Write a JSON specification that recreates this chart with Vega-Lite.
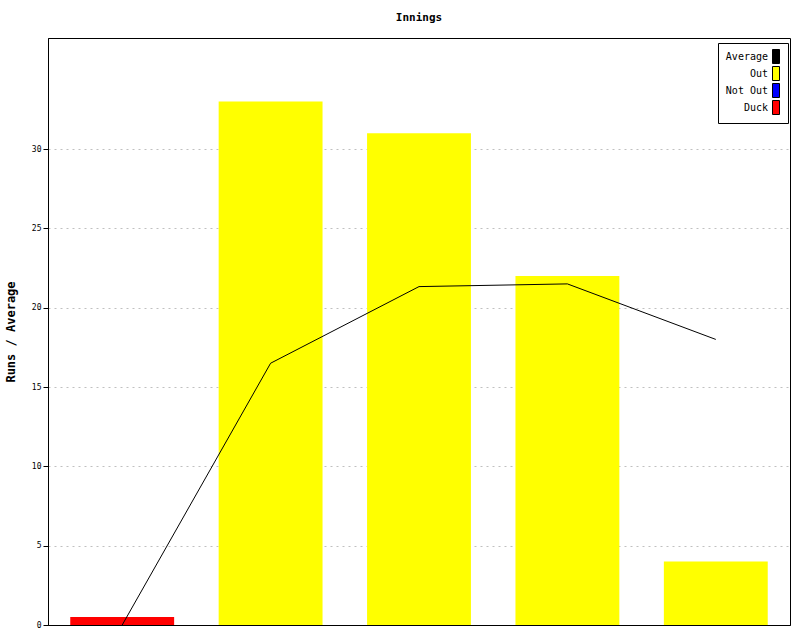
{
  "$schema": "https://vega.github.io/schema/vega-lite/v6.json",
  "width": 742,
  "height": 587,
  "autosize": "none",
  "padding": {"left": 48, "top": 38, "right": 10, "bottom": 15},
  "background": "white",
  "title": {"text": "Innings", "font": "DejaVu Sans Mono", "fontSize": 11, "fontWeight": "bold", "offset": 15, "color": "black"},
  "config": {
    "view": {"stroke": "black", "strokeWidth": 1},
    "font": "DejaVu Sans Mono"
  },
  "datasets": {
    "innings": [
      {"inning": 1, "runs": 0.5, "type": "Duck", "average": 0},
      {"inning": 2, "runs": 33, "type": "Out", "average": 16.5},
      {"inning": 3, "runs": 31, "type": "Out", "average": 21.33},
      {"inning": 4, "runs": 22, "type": "Out", "average": 21.5},
      {"inning": 5, "runs": 4, "type": "Out", "average": 18}
    ]
  },
  "data": {"name": "innings"},
  "encoding": {
    "x": {"field": "inning", "type": "ordinal", "axis": null, "scale": {"paddingInner": 0.3, "paddingOuter": 0.15}}
  },
  "layer": [
    {
      "mark": {"type": "bar"},
      "encoding": {
        "y": {
          "field": "runs", "type": "quantitative",
          "scale": {"domain": [0, 37], "nice": false},
          "axis": {
            "title": "Runs / Average", "titleFont": "DejaVu Sans Mono", "titleFontSize": 12, "titleFontWeight": "bold", "titleColor": "black", "titlePadding": 14,
            "values": [0, 5, 10, 15, 20, 25, 30], "labelFontSize": 8, "labelColor": "black", "labelFont": "DejaVu Sans Mono",
            "domainColor": "black", "tickColor": "black", "tickSize": 5,
            "grid": true,
            "gridColor": {"condition": {"test": "datum.value === 0", "value": "black"}, "value": "#c0c0c0"},
            "gridDash": {"condition": {"test": "datum.value === 0", "value": []}, "value": [2, 4]},
            "gridWidth": 1
          }
        },
        "color": {
          "field": "type", "type": "nominal",
          "scale": {"domain": ["Average", "Out", "Not Out", "Duck"], "range": ["#000000", "#ffff00", "#0000ff", "#ff0000"]},
          "legend": {
            "title": null, "orient": "none", "legendX": 670, "legendY": 5,
            "fillColor": "white", "strokeColor": "black", "padding": 6,
            "labelFont": "DejaVu Sans Mono", "labelFontSize": 10, "labelColor": "black",
            "labelAlign": "right", "labelOffset": -12, "symbolOffset": 41,
            "symbolType": "M0,-1L1,-1L1,1L0,1Z", "symbolSize": 196,
            "symbolStrokeColor": "black", "symbolStrokeWidth": 1, "rowPadding": -2,
            "symbolOpacity": 1,
            "encode": {"symbols": {"update": {"stroke": {"value": "black"}, "strokeWidth": {"value": 1}, "opacity": {"value": 1}}}}
          }
        }
      }
    },
    {
      "mark": {"type": "line", "color": "black", "strokeWidth": 1},
      "encoding": {
        "y": {"field": "average", "type": "quantitative"}
      }
    }
  ]
}
